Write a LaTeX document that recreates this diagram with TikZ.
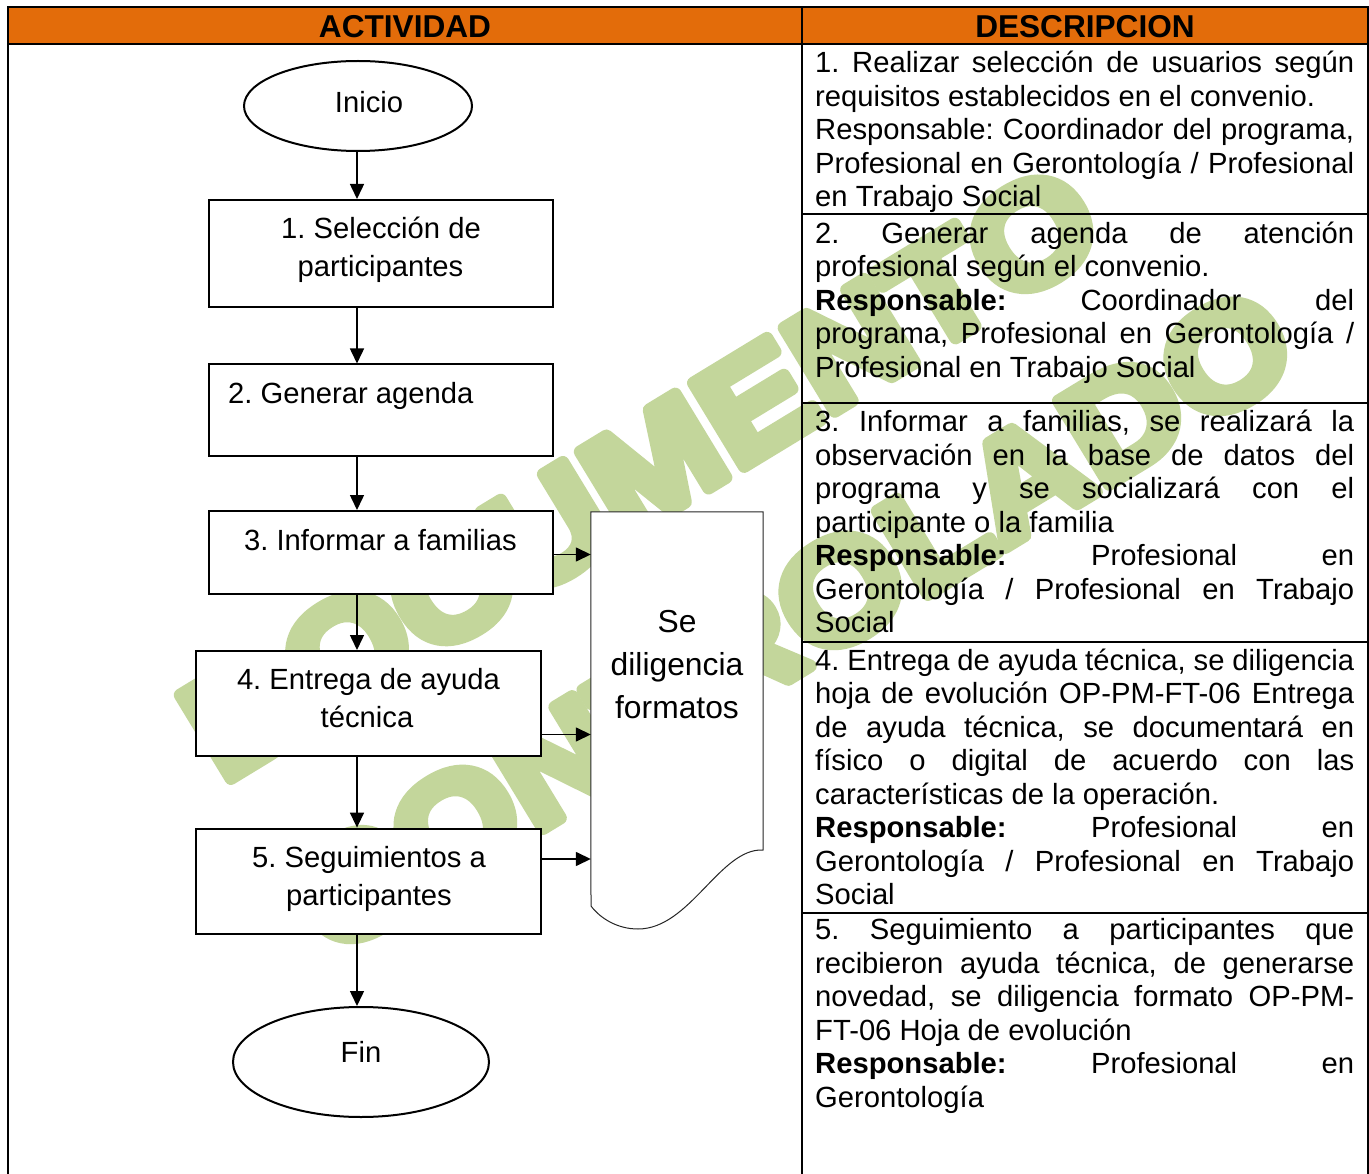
\documentclass[tikz,border=0pt]{standalone}
\usepackage{fontspec}
\setmainfont{Liberation Sans}
\newfontfamily\wmfont[BoldFeatures={FakeBold=9,FakeStretch=1.12}]{Liberation Sans}
\usetikzlibrary{arrows.meta,shapes.geometric}
\definecolor{hdrorange}{HTML}{E36C0A}
\definecolor{wmgreen}{HTML}{C3D69B}
\newcommand\fz{\fontsize{29.2}{33.5}\selectfont}
\newcommand\DescJ[3]{\node[dtxt] (#1) at (815,#2) {\makebox[539pt][s]{#3}};}
\newcommand\DescL[3]{\node[dtxt] (#1) at (815,#2) {#3};}
\begin{document}
\frenchspacing
\begin{tikzpicture}[x=1pt,y=-1pt,
  dtxt/.style={anchor=base west,inner sep=0pt,font=\fz},
  ftxt/.style={anchor=base,inner sep=0pt,font=\fz},
  btxt/.style={anchor=base,inner sep=0pt,font=\fontsize{31.8}{43}\selectfont},
  htxt/.style={anchor=base,inner sep=0pt,font=\fontsize{31.6}{36}\selectfont\bfseries},
  wm/.style={anchor=base,inner sep=0pt,text=wmgreen,font=\fontsize{142}{150}\selectfont\wmfont\bfseries},
  tline/.style={line width=2pt,black},
  fbox/.style={draw,line width=2pt,fill=white,rectangle,inner sep=0pt},
  fell/.style={draw,line width=2pt,fill=white,ellipse,inner sep=0pt},
  arr/.style={line width=1.5pt,-{Triangle[length=15pt,width=14pt]}}
]
\useasboundingbox (0,0) rectangle (1369,1174);
\fill[white] (0,0) rectangle (1369,1174);

% watermark
\begin{scope}[line join=round]
\node[wm,rotate=31.3] (wm1) at (666,514) {DOCUMENTO};
\node[wm,rotate=31.3] (wm2) at (817,662) {CONTROLADO};
\end{scope}

% table
\fill[hdrorange] (8,7) rectangle (1367.5,44.5);
\draw[tline] (8,1175) -- (8,7) -- (1367.5,7) -- (1367.5,1175);
\draw[tline] (802,7) -- (802,1175);
\draw[tline] (8,44.5) -- (1367.5,44.5);
\draw[tline] (802,214.5) -- (1367.5,214.5);
\draw[tline] (802,403) -- (1367.5,403);
\draw[tline] (802,642) -- (1367.5,642);
\draw[tline] (802,912.5) -- (1367.5,912.5);

\node[htxt] (h1) at (405,38) {ACTIVIDAD};
\node[htxt] (h2) at (1085,38) {DESCRIPCION};

% description column
\DescJ{d1a}{73}{1. Realizar selección de usuarios según}
\DescL{d1b}{106.5}{requisitos establecidos en el convenio.}
\DescJ{d1c}{140}{Responsable: Coordinador del programa,}
\DescJ{d1d}{173.5}{Profesional en Gerontología / Profesional}
\DescL{d1e}{207}{en Trabajo Social}

\DescJ{d2a}{243.5}{2. Generar agenda de atención}
\DescL{d2b}{277}{profesional según el convenio.}
\DescJ{d2c}{310.5}{\textbf{Responsable:} Coordinador del}
\DescJ{d2d}{344}{programa, Profesional en Gerontología /}
\DescL{d2e}{377.5}{Profesional en Trabajo Social}

\DescJ{d3a}{431.5}{3. Informar a familias, se realizará la}
\DescJ{d3b}{465}{observación en la base de datos del}
\DescJ{d3c}{498.5}{programa y se socializará con el}
\DescL{d3d}{532}{participante o la familia}
\DescJ{d3e}{565.5}{\textbf{Responsable:} Profesional en}
\DescJ{d3f}{599}{Gerontología / Profesional en Trabajo}
\DescL{d3g}{632.5}{Social}

\DescJ{d4a}{670}{4. Entrega de ayuda técnica, se diligencia}
\DescJ{d4b}{703.5}{hoja de evolución OP-PM-FT-06 Entrega}
\DescJ{d4c}{737}{de ayuda técnica, se documentará en}
\DescJ{d4d}{770.5}{físico o digital de acuerdo con las}
\DescL{d4e}{804}{características de la operación.}
\DescJ{d4f}{837.5}{\textbf{Responsable:} Profesional en}
\DescJ{d4g}{871}{Gerontología / Profesional en Trabajo}
\DescL{d4h}{904.5}{Social}

\DescJ{d5a}{939.5}{5. Seguimiento a participantes que}
\DescJ{d5b}{973}{recibieron ayuda técnica, de generarse}
\DescJ{d5c}{1006.5}{novedad, se diligencia formato OP-PM-}
\DescL{d5d}{1040}{FT-06 Hoja de evolución}
\DescJ{d5e}{1073.5}{\textbf{Responsable:} Profesional en}
\DescL{d5f}{1107}{Gerontología}

% flowchart shapes
\node[fell,minimum width=228pt,minimum height=90pt] (ini) at (358,106) {};
\node[fbox,minimum width=344pt,minimum height=107pt] (b1) at (380.75,253.5) {};
\node[fbox,minimum width=344.5pt,minimum height=91pt] (b2) at (380.75,410) {};
\node[fbox,minimum width=344.5pt,minimum height=83pt] (b3) at (380.75,552.5) {};
\node[fbox,minimum width=344.6pt,minimum height=105pt] (b4) at (368.7,703.5) {};
\node[fbox,minimum width=344.6pt,minimum height=105.4pt] (b5) at (368.7,881.3) {};
\node[fell,minimum width=256pt,minimum height=110pt] (fin) at (361,1062) {};

% document shape
\node[rectangle,inner sep=0pt,minimum width=172pt,minimum height=417pt] (doc) at (677,720.5) {};
\draw[line width=1pt,black!85,fill=white] (doc.north west) -- (doc.north east) -- (763,850)
  .. controls (720,848) and (690,929) .. (638,929)
  .. controls (617,929) and (600,918) .. (591,906) -- cycle;

% texts
\node[ftxt] (tini) at (369,112.5) {Inicio};
\node[ftxt] (t1a) at (381,239) {1. Selección de};
\node[ftxt] (t1b) at (380.5,277) {participantes};
\node[ftxt,anchor=base west] (t2) at (228,403) {2. Generar agenda};
\node[ftxt] (t3) at (380.5,550) {3. Informar a familias};
\node[ftxt] (t4a) at (368.5,689.3) {4. Entrega de ayuda};
\node[ftxt] (t4b) at (367,727.7) {técnica};
\node[ftxt] (t5a) at (369,867) {5. Seguimientos a};
\node[ftxt] (t5b) at (369,905.5) {participantes};
\node[ftxt] (tfin) at (361,1062) {Fin};
\node[btxt] (tda) at (677,632.6) {Se};
\node[btxt] (tdb) at (677,675.5) {diligencia};
\node[btxt] (tdc) at (677,718.5) {formatos};

% connectors
\coordinate (ax) at (357,0);
\coordinate (y3) at (0,554.5);
\coordinate (y4) at (0,734.5);
\coordinate (y5) at (0,859);
\draw[arr] (ini.south -| ax) -- (b1.north -| ax);
\draw[arr] (b1.south -| ax) -- (b2.north -| ax);
\draw[arr] (b2.south -| ax) -- (b3.north -| ax);
\draw[arr] (b3.south -| ax) -- (b4.north -| ax);
\draw[arr] (b4.south -| ax) -- (b5.north -| ax);
\draw[arr] (b5.south -| ax) -- (fin.north -| ax);
\draw[arr] (b3.east |- y3) -- (doc.west |- y3);
\draw[arr] (b4.east |- y4) -- (doc.west |- y4);
\draw[arr] (b5.east |- y5) -- (doc.west |- y5);
\end{tikzpicture}
\end{document}
